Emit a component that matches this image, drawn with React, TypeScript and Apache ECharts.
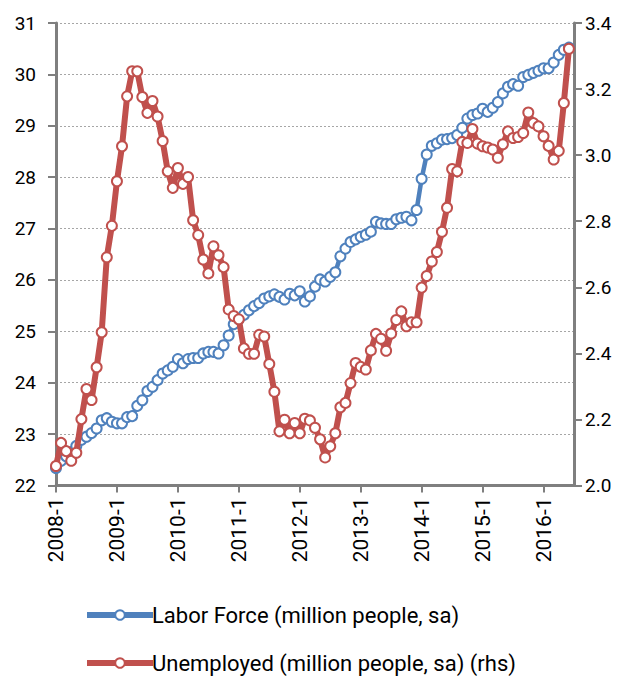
import React, { useEffect, useRef } from "react";
import * as echarts from "echarts";

const years = [2008, 2009, 2010, 2011, 2012, 2013, 2014, 2015, 2016];
const categories: string[] = [];
for (const y of years) for (let m = 1; m <= 12; m++) categories.push(`${y}-${m}`);
// keep through 2016-7 so the axis extends one step past the last point
const axisCategories = categories.slice(0, 103);

const laborForce = [
  22.34, 22.48, 22.57, 22.65, 22.77, 22.89, 22.95, 23.02, 23.11, 23.27, 23.31, 23.24,
  23.21, 23.21, 23.33, 23.35, 23.55, 23.66, 23.84, 23.92, 24.05, 24.18, 24.24, 24.31,
  24.46, 24.38, 24.46, 24.48, 24.48, 24.57, 24.6, 24.6, 24.57, 24.73, 24.92, 25.14,
  25.24, 25.32, 25.41, 25.49, 25.55, 25.64, 25.68, 25.72, 25.67, 25.62, 25.73, 25.7,
  25.78, 25.58, 25.68, 25.87, 26.01, 25.97, 26.06, 26.15, 26.46, 26.61, 26.74, 26.79,
  26.84, 26.88, 26.94, 27.13, 27.1, 27.09, 27.09, 27.18, 27.21, 27.23, 27.16, 27.36,
  27.97, 28.44, 28.61, 28.66, 28.73, 28.74, 28.76, 28.82, 28.96, 29.14, 29.21, 29.24,
  29.33, 29.27, 29.35, 29.46, 29.63, 29.76, 29.81, 29.78, 29.95, 29.99, 30.03, 30.07,
  30.12, 30.12, 30.23, 30.38, 30.48, 30.52,
];

const unemployed = [
  2.059, 2.129, 2.104, 2.075, 2.099, 2.201, 2.292, 2.259, 2.358, 2.464, 2.691, 2.786,
  2.921, 3.027, 3.178, 3.254, 3.254, 3.176, 3.128, 3.164, 3.117, 3.043, 2.951, 2.901,
  2.961, 2.913, 2.934, 2.803, 2.758, 2.684, 2.642, 2.724, 2.697, 2.661, 2.533, 2.513,
  2.503, 2.415, 2.399, 2.399, 2.456, 2.451, 2.368, 2.284, 2.164, 2.199, 2.158, 2.189,
  2.158, 2.202, 2.197, 2.175, 2.14, 2.085, 2.119, 2.158, 2.237, 2.25, 2.31, 2.371,
  2.359, 2.351, 2.409, 2.459, 2.444, 2.408, 2.46, 2.501, 2.527, 2.482, 2.494, 2.494,
  2.599, 2.634, 2.678, 2.707, 2.768, 2.841, 2.958, 2.951, 3.04, 3.037, 3.079, 3.035,
  3.027, 3.023, 3.017, 2.992, 3.033, 3.072, 3.052, 3.055, 3.067, 3.129, 3.097, 3.087,
  3.057, 3.028, 2.987, 3.013, 3.158, 3.322,
];

const leftTicks = { min: 22, max: 31, interval: 1 };
const rightTicks = { min: 2.0, max: 3.4, interval: 0.2 };

const BLUE = "#4F81BD";
const RED = "#C0504D";
const AXIS = "#7F7F7F";
const FONT = "Roboto";

export default function App() {
  const ref = useRef<HTMLDivElement>(null);
  useEffect(() => {
    if (!ref.current) return;
    const chart = echarts.init(ref.current, undefined, { renderer: "svg" });
    chart.setOption({
      animation: false,
      backgroundColor: "#fff",
      textStyle: { fontFamily: FONT },
      grid: { left: 56, right: 52, top: 23, bottom: 193.5, containLabel: false },
      legend: {
        orient: "vertical",
        left: 84,
        top: 604,
        height: 120,
        padding: 0,
        itemWidth: 66,
        itemHeight: 12,
        itemGap: 26,
        lineStyle: { width: 6 },
        textStyle: { fontFamily: FONT, fontSize: 22, color: "#000", padding: [0, 0, 0, -6] },
        data: ["Labor Force (million people, sa)", "Unemployed (million people, sa) (rhs)"],
      },
      xAxis: {
        type: "category",
        data: axisCategories,
        boundaryGap: false,
        axisLine: { lineStyle: { color: AXIS, width: 3 } },
        axisTick: {
          show: true,
          length: 7,
          lineStyle: { color: AXIS, width: 2 },
          interval: (i: number) => i % 12 === 0,
        },
        axisLabel: {
          rotate: 90,
          interval: (i: number) => i % 12 === 0,
          fontFamily: FONT,
          fontSize: 21,
          color: "#000",
          margin: 12,
        },
        splitLine: { show: false },
      },
      yAxis: [
        {
          type: "value",
          ...leftTicks,
          position: "left",
          axisLine: { show: true, lineStyle: { color: AXIS, width: 3 } },
          axisTick: { show: true, length: 8, lineStyle: { color: AXIS, width: 2 } },
          axisLabel: { fontFamily: FONT, fontSize: 19, color: "#000", margin: 20 },
          splitLine: { show: true, lineStyle: { color: "#A6A6A6", type: [2, 2], width: 1 } },
        },
        {
          type: "value",
          ...rightTicks,
          position: "right",
          axisLine: { show: true, lineStyle: { color: AXIS, width: 3 } },
          axisTick: { show: true, length: 8, lineStyle: { color: AXIS, width: 2 } },
          axisLabel: {
            fontFamily: FONT,
            fontSize: 19,
            color: "#000",
            margin: 11,
            formatter: (v: number) => v.toFixed(1),
          },
          splitLine: { show: false },
        },
      ],
      series: [
        {
          name: "Labor Force (million people, sa)",
          type: "line",
          yAxisIndex: 0,
          data: laborForce,
          symbol: "circle",
          symbolSize: 10,
          showAllSymbol: true,
          lineStyle: { color: BLUE, width: 4.5 },
          itemStyle: { color: "#fff", borderColor: BLUE, borderWidth: 2 },
          z: 2,
        },
        {
          name: "Unemployed (million people, sa) (rhs)",
          type: "line",
          yAxisIndex: 1,
          data: unemployed,
          symbol: "circle",
          symbolSize: 10,
          showAllSymbol: true,
          lineStyle: { color: RED, width: 6 },
          itemStyle: { color: "#fff", borderColor: RED, borderWidth: 2 },
          z: 3,
        },
      ],
    });
    return () => chart.dispose();
  }, []);
  return (
    <div
      ref={ref}
      style={{ position: "fixed", left: 0, top: 0, width: 626, height: 679 }}
    />
  );
}
